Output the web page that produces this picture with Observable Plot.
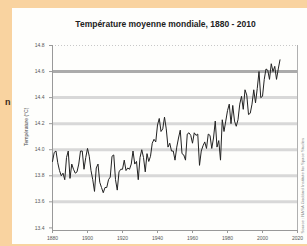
<!DOCTYPE html>
<html><head><meta charset="utf-8">
<script src="https://cdn.jsdelivr.net/npm/d3@7"></script>
<script src="https://cdn.jsdelivr.net/npm/@observablehq/plot@0.6"></script>
<style>
html,body{margin:0;padding:0;width:307px;height:246px;overflow:hidden;background:#f9d3a0;font-family:"Liberation Sans",Arial,sans-serif;}
#panel{position:absolute;left:12px;top:8px;width:295px;height:236px;background:#fefefc;}
#title{position:absolute;left:6px;top:11px;width:295px;text-align:center;font-weight:bold;font-size:8.5px;color:#222;white-space:nowrap;}
#chart{position:absolute;left:0;top:24px;}
#n{position:absolute;left:5px;top:97px;font-weight:bold;font-size:9px;color:#3a2a1a;}
</style></head><body>
<div id="n">n</div>
<div id="panel"><div id="title">Température moyenne mondiale, 1880 - 2010</div><div id="chart"></div></div>
<script>
const firstYear = 1880;
const temps = [
13.91,13.98,13.99,13.90,13.84,13.80,13.82,13.77,13.94,13.99,
13.78,13.89,13.85,13.82,13.83,13.89,13.99,13.99,13.85,13.94,
14.01,13.95,13.84,13.77,13.68,13.86,13.89,13.75,13.71,13.67,
13.71,13.71,13.77,13.79,13.95,13.96,13.77,13.69,13.83,13.85,
13.85,13.92,13.84,13.86,13.85,13.89,13.99,13.89,13.91,13.77,
13.94,14.00,13.94,13.83,13.97,13.91,13.95,14.05,14.08,14.06,
14.19,14.24,14.14,14.16,14.25,14.16,14.02,14.05,13.99,13.99,
13.92,14.02,14.09,14.15,13.97,13.96,13.92,14.12,14.13,14.11,
14.05,14.13,14.11,14.12,13.88,13.99,14.03,14.06,14.01,14.12,
14.11,14.01,14.09,14.22,14.02,14.07,13.92,14.23,14.14,14.22,
14.30,14.35,14.20,14.34,14.22,14.18,14.23,14.35,14.41,14.31,
14.46,14.42,14.27,14.28,14.35,14.46,14.36,14.47,14.60,14.40,
14.41,14.54,14.62,14.61,14.54,14.66,14.60,14.64,14.54,14.62,
14.69];
const yTicks = [13.4,13.6,13.8,14.0,14.2,14.4,14.6,14.8];
const gridValues = [13.6,13.8,14.0,14.2,14.4];
const strongGrid = [14.6];
const xTicks = [1880,1900,1920,1940,1960,1980,2000,2020];
const yTitle = "Température (°C)";
const sourceText = "Source : NASA Goddard Institute for Space Studies";

const data = temps.map((t,i)=>({year:firstYear+i,temp:t}));

const chart = Plot.plot({
  width:295, height:214,
  marginLeft:40, marginRight:10, marginTop:13, marginBottom:16,
  style:{fontFamily:"'Liberation Sans',Arial,sans-serif",fontSize:"5px",color:"#555",background:"transparent",overflow:"visible"},
  x:{domain:[1880,2020]},
  y:{domain:[13.38,14.8]},
  marks:[
    Plot.ruleY(gridValues,{stroke:"#d8d8d8",strokeWidth:3}),
    Plot.ruleY(strongGrid,{stroke:"#ababab",strokeWidth:3}),
    Plot.ruleY([14.8],{stroke:"#c8c8c8",strokeDasharray:"1,2"}),
    Plot.ruleX([2020],{stroke:"#b0b0b0"}),
    Plot.ruleX([1880],{stroke:"#999"}),
    Plot.ruleY([13.38],{stroke:"#999"}),
    Plot.axisY({ticks:yTicks,tickSize:3,tickPadding:5,tickFormat:d=>d.toFixed(1),label:null,stroke:"#999"}),
    Plot.axisX({ticks:xTicks,tickSize:3,tickPadding:3,tickFormat:d=>String(d),label:null,stroke:"#999"}),
    Plot.line(data,{x:"year",y:"temp",stroke:"#222",strokeWidth:1}),
    Plot.text([yTitle],{frameAnchor:"left",rotate:-90,dx:-26,dy:8,fontSize:5,fill:"#444"}),
    Plot.text([sourceText],{frameAnchor:"right",rotate:-90,dx:5,dy:0,fontSize:4.2,fill:"#888"})
  ]
});
document.getElementById("chart").appendChild(chart);
</script>
</body></html>
